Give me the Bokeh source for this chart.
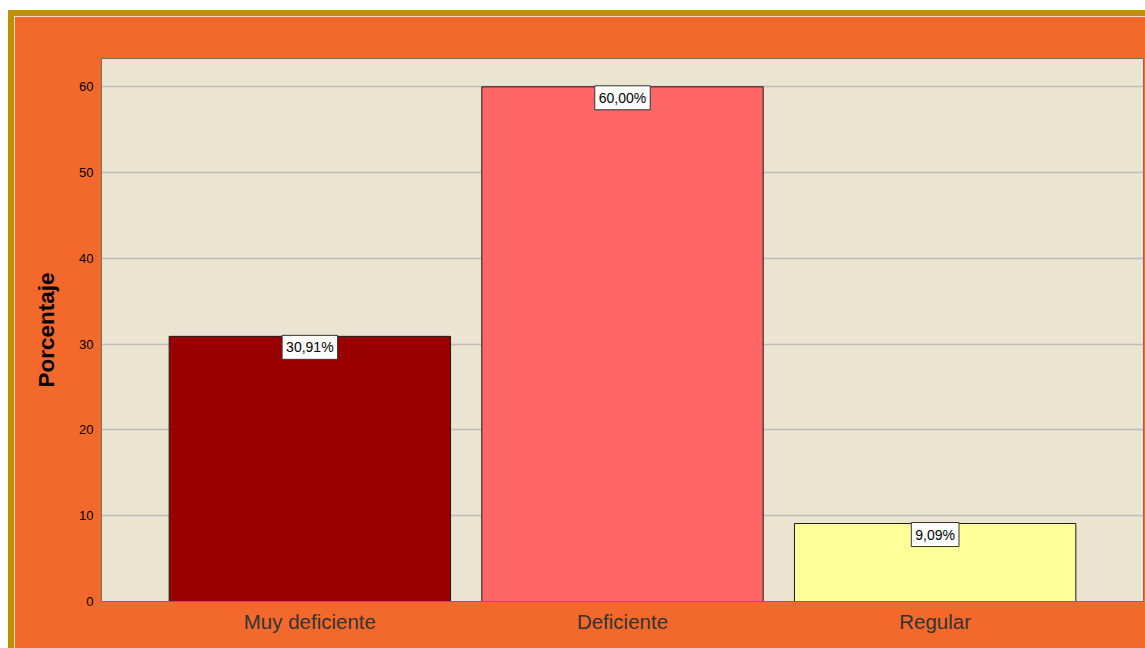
from bokeh.plotting import figure
from bokeh.models import ColumnDataSource, Label, FactorRange
from bokeh.embed import file_html
from bokeh.resources import INLINE

categories = ["Muy deficiente", "Deficiente", "Regular"]
percentages = [30.91, 60.00, 9.09]
bar_colors = ["#990000", "#FF6666", "#FFFF99"]
label_texts = ["30,91%", "60,00%", "9,09%"]
y_ticks = [0, 10, 20, 30, 40, 50, 60]

src = ColumnDataSource(dict(cat=categories, val=percentages, color=bar_colors))

x_range = FactorRange(*categories, range_padding=0.1664, range_padding_units="absolute")
p = figure(
    x_range=x_range,
    y_range=(0, 63.3),
    width=1137, height=638,
    output_backend="svg", toolbar_location=None,
    min_border_left=87, min_border_top=42, min_border_right=8, min_border_bottom=53,
)
p.styles = {"margin-left": "8px", "margin-top": "10px",
            "border-top": "6px solid #BF9000", "border-left": "6px solid #BF9000"}
p.background_fill_color = "#EAE4D0"
p.border_fill_color = "#F3692C"
p.outline_line_color = "#6F6F6F"
p.outline_line_width = 1

p.vbar(x="cat", top="val", width=0.9, fill_color="color", line_color="#1A1A1A", line_width=1, source=src)

# factor positions on the categorical scale are index + 0.5
for i, (v, t) in enumerate(zip(percentages, label_texts)):
    p.add_layout(Label(x=i + 0.5, y=v, text=t, text_align="center", text_baseline="top",
                       y_offset=1, text_font_size="14px", text_font="Liberation Sans",
                       text_color="#000000", background_fill_color="white",
                       border_line_color="#333333", border_line_width=1, padding=4))

p.xgrid.grid_line_color = None
p.ygrid.grid_line_color = "#BDBDBD"
p.ygrid.grid_line_width = 1.5
p.yaxis.ticker = y_ticks

p.yaxis.axis_label = "Porcentaje"
p.yaxis.axis_label_text_font = "Liberation Sans"
p.yaxis.axis_label_text_font_style = "bold"
p.yaxis.axis_label_text_font_size = "22.5px"
p.yaxis.axis_label_text_color = "#000000"
p.yaxis.axis_label_standoff = 17
p.yaxis.major_label_text_font = "Liberation Sans"
p.yaxis.major_label_text_font_size = "13px"
p.yaxis.major_label_text_color = "#000000"
p.yaxis.major_tick_line_color = None
p.yaxis.major_tick_out = 0
p.yaxis.major_tick_in = 0
p.yaxis.minor_tick_line_color = None
p.yaxis.axis_line_color = "#6F6F6F"
p.yaxis.major_label_standoff = 8

p.xaxis.major_label_text_font = "Liberation Sans"
p.xaxis.major_label_text_font_size = "20.5px"
p.xaxis.major_label_text_color = "#333333"
p.xaxis.major_tick_line_color = None
p.xaxis.major_tick_out = 0
p.xaxis.major_tick_in = 0
p.xaxis.axis_line_color = "#6F6F6F"
p.xaxis.major_label_standoff = 8

open("out.html", "w").write(file_html(p, INLINE))
